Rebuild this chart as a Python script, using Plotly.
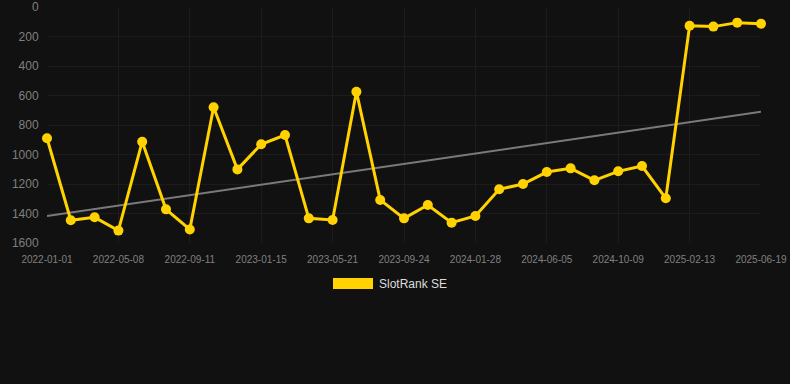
import plotly.graph_objects as go

dates = ["2022-01-01", "2022-02-12", "2022-03-26", "2022-05-08", "2022-06-19", "2022-07-31",
         "2022-09-11", "2022-10-23", "2022-12-04", "2023-01-15", "2023-02-26", "2023-04-09",
         "2023-05-21", "2023-07-02", "2023-08-13", "2023-09-24", "2023-11-05", "2023-12-17",
         "2024-01-28", "2024-03-11", "2024-04-23", "2024-06-05", "2024-07-17", "2024-08-28",
         "2024-10-09", "2024-11-20", "2025-01-01", "2025-02-13", "2025-03-27", "2025-05-08",
         "2025-06-19"]
rank = [890, 1446, 1426, 1516, 913, 1372, 1508, 680, 1101, 931, 868, 1433, 1444, 574, 1308,
        1433, 1342, 1462, 1417, 1236, 1200, 1119, 1094, 1175, 1114, 1078, 1297, 127, 133, 106, 113]
trend_x = [dates[0], dates[-1]]
trend_y = [1417, 710]
tick_labels = dates[::3]
y_ticks = [0, 200, 400, 600, 800, 1000, 1200, 1400, 1600]
series_name = "SlotRank SE"

GOLD = "#FFD200"
BG = "#111111"
GRID = "#1c1c1c"

fig = go.Figure()
fig.add_trace(go.Scatter(x=trend_x, y=trend_y, mode="lines",
                         line=dict(color="#7a7a7a", width=2), showlegend=False,
                         hoverinfo="skip", cliponaxis=False))
fig.add_trace(go.Scatter(x=dates, y=rank, mode="lines+markers", name=series_name,
                         line=dict(color=GOLD, width=3),
                         marker=dict(color=GOLD, size=10),
                         cliponaxis=False, showlegend=False))

fig.update_layout(
    width=790, height=384,
    paper_bgcolor=BG, plot_bgcolor=BG,
    margin=dict(l=47, r=29, t=7, b=141),
    font=dict(family="Liberation Sans, Arial, sans-serif", color="#808080"),
    xaxis=dict(type="category", categoryorder="array", categoryarray=dates,
               range=[0, len(dates) - 1], tickmode="array", tickvals=tick_labels,
               ticktext=tick_labels, showgrid=True, gridcolor=GRID, gridwidth=1,
               zeroline=False, showline=False, ticks="outside", ticklen=7,
               tickcolor=BG, tickfont=dict(size=10, color="#808080"), automargin=False),
    yaxis=dict(range=[1600, 0], tickmode="array", tickvals=y_ticks,
               showgrid=True, gridcolor=GRID, gridwidth=1, zeroline=False,
               showline=False, ticks="outside", ticklen=5, tickcolor=BG,
               tickfont=dict(size=12, color="#808080"), automargin=False),
    showlegend=False,
)

# legend-like marker below the chart
fig.add_shape(type="rect", xref="paper", yref="paper",
              x0=(333 - 47) / 714, x1=(373 - 47) / 714,
              y0=(243 - 278) / 236, y1=(243 - 289) / 236,
              fillcolor=GOLD, line=dict(width=0))
fig.add_annotation(xref="paper", yref="paper", x=(377 - 47) / 714, y=(243 - 284) / 236,
                   text=series_name, showarrow=False, xanchor="left", yanchor="middle",
                   font=dict(size=12, color="#dddddd"))

fig.write_html("out.html")
